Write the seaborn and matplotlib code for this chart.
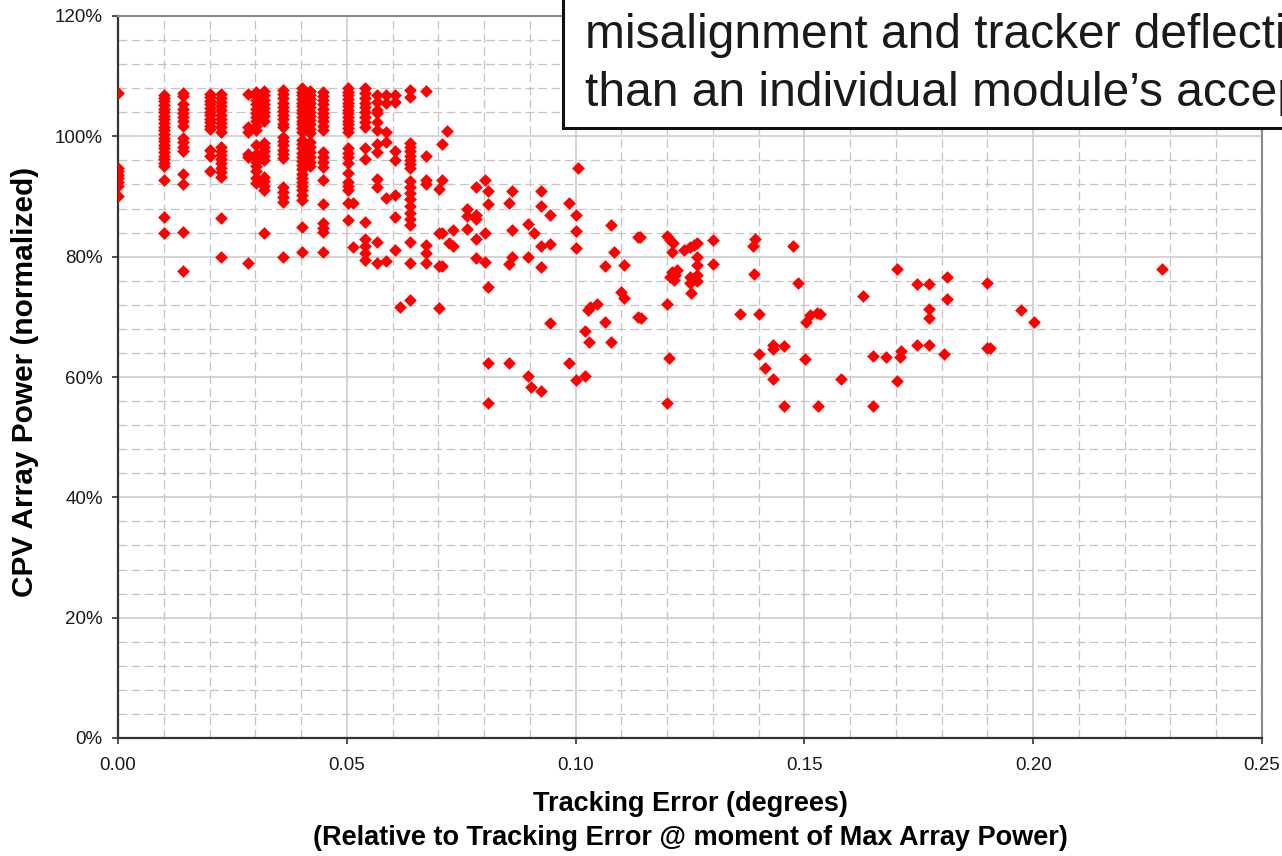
import matplotlib
matplotlib.use("Agg")
import matplotlib.pyplot as plt
import pandas as pd
import seaborn as sns
from matplotlib.patches import Rectangle
from matplotlib.ticker import MultipleLocator, FuncFormatter

# ---------------------------------------------------------------------------
# Tracking error (degrees) vs. normalized CPV array power (%)
# ---------------------------------------------------------------------------

# Stacked columns of readings that share the same tracking error
stack_x = [0.000, 0.010, 0.0143, 0.0200, 0.0225, 0.0285, 0.0302, 0.0320,
           0.0361, 0.0402, 0.0420, 0.0449, 0.0503, 0.0540, 0.0566, 0.0586,
           0.0605, 0.0638, 0.0672]

stack_000 = [107.2, 94.8, 94.2, 93.6, 93.0, 92.4, 91.8, 90.1]
stack_010 = [106.9, 106.4, 105.8, 105.2, 104.6, 104.0, 103.4, 102.8, 102.2,
             101.6, 101.0, 100.4, 99.8, 99.2, 98.6, 98.0, 97.4, 96.8, 96.2,
             95.6, 95.0, 92.8, 86.6, 83.9]
stack_014 = [107.2, 106.7, 105.3, 104.6, 103.9, 103.2, 102.5, 101.8, 99.7,
             99.0, 98.3, 97.6, 93.7, 92.0, 84.1, 77.6]
stack_020 = [107.1, 106.5, 105.9, 105.3, 104.7, 104.1, 103.5, 102.9, 102.3,
             101.7, 101.2, 97.7, 96.7, 94.2]
stack_022 = [107.1, 106.4, 105.7, 105.0, 104.3, 103.6, 102.9, 102.2, 101.5,
             100.8, 98.3, 97.6, 96.9, 96.2, 95.5, 94.8, 94.0, 93.3, 86.5, 79.9]
stack_028 = [107.0, 101.5, 100.8, 97.0, 96.5, 78.9]
stack_030 = [107.3, 106.7, 106.0, 105.3, 104.6, 103.9, 103.2, 102.5, 101.8,
             101.1, 98.5, 97.1, 96.4, 95.7, 95.0, 94.3, 93.0, 92.3]
stack_032 = [107.5, 106.8, 106.1, 105.4, 104.7, 104.0, 103.3, 102.6, 98.9,
             98.2, 97.5, 96.8, 96.1, 93.2, 92.5, 91.8, 91.1, 83.9]
stack_036 = [107.7, 107.0, 106.3, 105.6, 104.9, 104.2, 103.5, 102.8, 102.1,
             101.6, 99.9, 99.2, 98.5, 97.8, 97.1, 96.4, 91.6, 90.8, 90.0,
             89.1, 80.0]
stack_040 = [108.0, 107.4, 106.8, 106.2, 105.6, 105.0, 104.4, 103.8, 103.2,
             102.6, 102.0, 101.4, 100.8, 99.4, 98.7, 98.0, 97.3, 96.6, 95.9,
             95.2, 94.5, 93.8, 93.1, 92.4, 91.7, 91.0, 90.2, 89.4, 85.0, 80.8]
stack_042 = [107.6, 106.9, 106.2, 105.5, 104.8, 104.1, 103.4, 102.7, 102.0,
             101.3, 100.5, 99.0, 98.2, 97.4, 96.6, 95.8, 95.0]
stack_045 = [107.4, 106.7, 106.0, 105.3, 104.6, 103.9, 103.2, 102.5, 101.8,
             101.0, 97.4, 96.6, 95.7, 94.9, 92.7, 88.7, 85.6, 84.8, 84.1, 80.8]
stack_050 = [108.0, 107.4, 106.8, 106.2, 105.6, 105.0, 104.4, 103.8, 103.2,
             102.6, 102.0, 101.4, 100.8, 98.0, 97.3, 96.6, 95.6, 93.9, 92.4,
             91.7, 91.1, 88.9, 86.1]
stack_054 = [108.0, 107.2, 106.4, 105.6, 104.8, 104.0, 103.2, 102.4, 101.6,
             98.0, 96.3, 85.8, 83.0, 81.7, 80.6, 79.4]
stack_057 = [106.9, 105.7, 104.4, 103.8, 102.4, 101.0, 98.8, 97.4, 92.9,
             91.6, 82.5, 78.9]
stack_059 = [106.9, 105.5, 100.8, 99.1, 89.8, 79.2]
stack_061 = [106.9, 105.7, 97.6, 96.1, 90.2, 86.6, 81.1]
stack_064 = [107.7, 106.6, 98.9, 98.2, 97.5, 96.8, 96.1, 95.4, 94.7, 92.6,
             91.6, 90.6, 89.6, 88.5, 87.2, 86.2, 85.2, 82.5, 78.9, 72.8]
stack_067 = [107.6, 96.7, 92.8, 92.0, 81.9, 80.6, 78.9]

stacks = [stack_000, stack_010, stack_014, stack_020, stack_022, stack_028,
          stack_030, stack_032, stack_036, stack_040, stack_042, stack_045,
          stack_050, stack_054, stack_057, stack_059, stack_061, stack_064,
          stack_067]

# Scattered readings, 0.05 - 0.11 degrees
mid_x = [0.0513, 0.0513, 0.0720, 0.0707, 0.0707, 0.0701, 0.0782, 0.0801,
         0.0808, 0.0808, 0.0762, 0.0762, 0.0782, 0.0782, 0.0763, 0.0782,
         0.0801, 0.0701, 0.0709, 0.0731, 0.0724, 0.0731, 0.0701, 0.0709,
         0.0782, 0.0801, 0.0808, 0.0701, 0.0616, 0.0862, 0.0854, 0.0862,
         0.0862, 0.0854, 0.0895, 0.0908, 0.0895, 0.0924, 0.0924, 0.0944,
         0.0924, 0.0944, 0.0924, 0.0986, 0.1001, 0.1001, 0.1001, 0.1006,
         0.1077, 0.1083, 0.1064, 0.1106, 0.1137, 0.1099, 0.1106, 0.1137,
         0.1028, 0.1031, 0.1046, 0.1064, 0.1021, 0.1030, 0.1077, 0.0944,
         0.0808, 0.0855, 0.0986, 0.0895, 0.0902, 0.0924, 0.1001, 0.1021,
         0.0808]
mid_y = [81.6, 88.9, 100.9, 98.7, 92.8, 91.2, 91.5, 92.7,
         90.9, 88.7, 88.0, 86.8, 86.9, 86.3, 84.6, 83.0,
         84.0, 83.9, 84.0, 84.4, 82.3, 81.8, 78.4, 78.4,
         79.7, 79.1, 75.0, 71.5, 71.7, 90.9, 89.0, 84.5,
         80.0, 78.7, 85.5, 84.0, 80.0, 90.9, 88.5, 86.9,
         81.8, 82.1, 78.3, 89.0, 86.9, 84.3, 81.4, 94.8,
         85.2, 80.7, 78.4, 78.6, 83.3, 74.1, 73.2, 69.9,
         71.1, 71.7, 72.2, 69.1, 67.7, 65.9, 65.9, 69.0,
         62.4, 62.4, 62.3, 60.2, 58.4, 57.6, 59.5, 60.2,
         55.6]

# Scattered readings beyond 0.11 degrees
far_x = [0.1199, 0.1206, 0.1212, 0.1210, 0.1237, 0.1250, 0.1259, 0.1266,
         0.1266, 0.1266, 0.1301, 0.1301, 0.1392, 0.1388, 0.1476, 0.1390,
         0.1487, 0.1629, 0.1210, 0.1217, 0.1214, 0.1221, 0.1206, 0.1250,
         0.1250, 0.1266, 0.1266, 0.1259, 0.1252, 0.1200, 0.1142, 0.1360,
         0.1401, 0.1503, 0.1512, 0.1527, 0.1533, 0.1205, 0.1401, 0.1432,
         0.1432, 0.1455, 0.1414, 0.1432, 0.1501, 0.1651, 0.1581, 0.1200,
         0.1456, 0.1530, 0.1651, 0.1702, 0.1747, 0.1772, 0.1811, 0.1900,
         0.2281, 0.1811, 0.1772, 0.1772, 0.1973, 0.2002, 0.1678, 0.1709,
         0.1712, 0.1747, 0.1772, 0.1804, 0.1898, 0.1906, 0.1703, 0.1141]
far_y = [83.4, 82.8, 82.3, 80.7, 81.1, 81.6, 81.9, 82.3,
         79.9, 78.6, 82.8, 78.8, 82.9, 81.7, 81.8, 77.2,
         75.7, 73.4, 77.5, 76.9, 76.1, 77.8, 76.7, 76.7,
         75.6, 76.9, 76.0, 76.4, 73.9, 72.1, 69.8, 70.5,
         70.5, 69.2, 70.3, 70.6, 70.5, 63.1, 63.8, 65.3,
         64.6, 65.2, 61.5, 59.6, 63.0, 63.5, 59.6, 55.6,
         55.2, 55.2, 55.2, 77.9, 75.4, 75.4, 76.6, 75.7,
         77.9, 72.9, 71.3, 69.8, 71.2, 69.1, 63.4, 63.4,
         64.4, 65.3, 65.3, 63.8, 64.9, 64.9, 59.4, 83.2]

callout_lines = ["Array tolerance is reduced by module",
                 "misalignment and tracker deflection, to less",
                 "than an individual module\u2019s acceptance angle"]

x_title = "Tracking Error (degrees)"
x_subtitle = "(Relative to Tracking Error @ moment of Max Array Power)"
y_title = "CPV Array Power (normalized)"

# ---------------------------------------------------------------------------
err, power = [], []
for x, col in zip(stack_x, stacks):
    err += [x] * len(col)
    power += col
err += mid_x + far_x
power += mid_y + far_y
df = pd.DataFrame({"tracking_error": err, "array_power": power})

sns.set_style("white")
plt.rcParams["font.family"] = ["Liberation Sans", "DejaVu Sans"]

W, H = 1282, 856
fig = plt.figure(figsize=(W / 100, H / 100), dpi=100)
fig.patch.set_facecolor("white")
ax = fig.add_axes([118 / W, 1 - 738 / H, (1262 - 118) / W, (738 - 16) / H])

sns.scatterplot(data=df, x="tracking_error", y="array_power", marker="D",
                color="#ff0000", s=42, linewidth=0, ax=ax, zorder=3,
                legend=False)

ax.set_xlim(0, 0.25)
ax.set_ylim(0, 120)
ax.xaxis.set_major_locator(MultipleLocator(0.05))
ax.xaxis.set_minor_locator(MultipleLocator(0.01))
ax.yaxis.set_major_locator(MultipleLocator(20))
ax.yaxis.set_minor_locator(MultipleLocator(4))
ax.xaxis.set_major_formatter(FuncFormatter(lambda v, p: f"{v:.2f}"))
ax.yaxis.set_major_formatter(FuncFormatter(lambda v, p: f"{v:.0f}%"))

ax.set_axisbelow(True)
ax.grid(which="major", color="#c9c9c9", linewidth=1.1, linestyle="-")
ax.grid(which="minor", color="#c4c4c4", linewidth=0.9, linestyle=(0, (7, 3.5)))

ax.tick_params(which="major", direction="out", length=4.5, width=1.2,
               color="#333333", labelsize=13.5, labelcolor="#1a1a1a")
ax.tick_params(axis="y", which="major", pad=6.5, left=True)
ax.tick_params(axis="x", which="major", pad=9, bottom=True)
ax.tick_params(which="minor", length=0)

for side in ("left", "bottom"):
    ax.spines[side].set_color("#333333")
    ax.spines[side].set_linewidth(1.6)
for side in ("top", "right"):
    ax.spines[side].set_color("#8a8a8a")
    ax.spines[side].set_linewidth(1.5)

ax.set_xlabel("")
ax.set_ylabel("")

# axis titles
fig.text(690 / W, 1 - 804 / H, x_title, ha="center", va="center",
         fontsize=19.5, fontweight="bold", color="#000000")
fig.text(690 / W, 1 - 838 / H, x_subtitle, ha="center", va="center",
         fontsize=19.5, fontweight="bold", color="#000000")
fig.text(25 / W, 1 - 382 / H, y_title, ha="center", va="center",
         rotation=90, fontsize=21.5, fontweight="bold", color="#000000")

# callout box in the upper right
box = Rectangle((563 / W, 1 - 127.7 / H), 0.7, 0.3, transform=fig.transFigure,
                facecolor="white", edgecolor="#111111", linewidth=2.2,
                zorder=10)
fig.add_artist(box)
for baseline, line in zip((-10, 48, 106), callout_lines):
    fig.text(585 / W, 1 - baseline / H, line, ha="left", va="baseline",
             fontsize=34.5, color="#1a1a1a", zorder=11)

fig.savefig("out.png", dpi=100, facecolor="white")
